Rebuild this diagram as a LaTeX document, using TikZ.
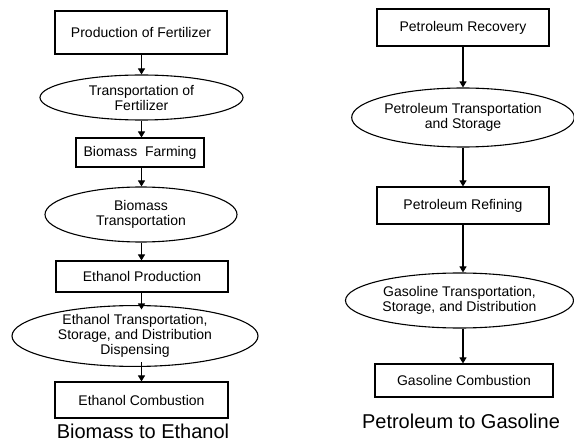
\documentclass[tikz,border=0pt]{standalone}
\usepackage{fontspec}
\setmainfont{Liberation Sans}
\usetikzlibrary{shapes.geometric,arrows.meta}
\begin{document}
\begin{tikzpicture}[x=1pt,y=-1pt,
  every node/.style={font=\fontsize{14}{15}\selectfont, align=center, inner sep=0pt, line width=1.1pt},
  stepbox/.style={draw, rectangle},
  flowell/.style={draw, ellipse},
  caption/.style={font=\fontsize{20}{22}\selectfont},
  flow/.style={draw, line width=1.1pt, -{Triangle[length=6pt,width=7pt]}}]
\useasboundingbox (0,0) rectangle (574,441);
% left column
\node[stepbox, minimum width=172pt, minimum height=43pt] (a1) at (141,32.5) {Production of Fertilizer};
\node[flowell, minimum width=203pt, minimum height=45pt] (a2) at (141.5,97.5) {Transportation of\\Fertilizer};
\node[stepbox, minimum width=128pt, minimum height=29pt] (a3) at (140,152.5) {Biomass\ \ Farming};
\node[flowell, minimum width=192pt, minimum height=55pt] (a4) at (141,214.5) {Biomass\\Transportation};
\node[stepbox, minimum width=172pt, minimum height=31pt] (a5) at (142,276.5) {Ethanol Production};
\node[flowell, minimum width=246pt, minimum height=54pt] (a6) at (135,336) {Ethanol Transportation,\\Storage, and Distribution\\Dispensing};
\node[stepbox, minimum width=173pt, minimum height=36pt] (a7) at (141.5,400) {Ethanol Combustion};
\node[caption] (ca) at (143,431) {Biomass to Ethanol};
% right column
\node[stepbox, minimum width=172pt, minimum height=37pt] (b1) at (463,27.5) {Petroleum Recovery};
\node[flowell, minimum width=220pt, minimum height=59pt] (b2) at (463,117.5) {Petroleum Transportation\\and Storage};
\node[stepbox, minimum width=172pt, minimum height=37pt] (b3) at (463,205.5) {Petroleum Refining};
\node[flowell, minimum width=228pt, minimum height=55pt] (b4) at (459.5,300.5) {Gasoline Transportation,\\Storage, and Distribution};
\node[stepbox, minimum width=178pt, minimum height=33pt] (b5) at (464,380.5) {Gasoline Combustion};
\node[caption] (cb) at (461,421) {Petroleum to Gasoline};
% connectors
\draw[flow] (a1.south -| 141.5,0) -- (a2.north -| 141.5,0);
\draw[flow] (a2.south -| 141.5,0) -- (a3.north -| 141.5,0);
\draw[flow] (a3.south -| 141.5,0) -- (a4.north -| 141.5,0);
\draw[flow] (a4.south -| 141.5,0) -- (a5.north -| 141.5,0);
\draw[flow] (a5.south -| 141.5,0) -- (141.5,309.5);
\draw[flow] (141.5,362.5) -- (a7.north -| 141.5,0);
\draw[flow] (b1.south -| 463,0) -- (b2.north -| 463,0);
\draw[flow] (b2.south -| 463,0) -- (b3.north -| 463,0);
\draw[flow] (b3.south -| 463,0) -- (b4.north -| 463,0);
\draw[flow] (b4.south -| 463,0) -- (b5.north -| 463,0);
\end{tikzpicture}
\end{document}
